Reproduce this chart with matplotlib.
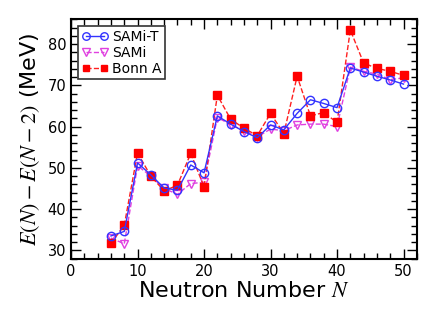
import numpy as np
import matplotlib
matplotlib.use("Agg")
import matplotlib.pyplot as plt
from matplotlib.ticker import MultipleLocator

plt.rcParams['mathtext.fontset'] = 'stix'

# Data
N = [6, 8, 10, 12, 14, 16, 18, 20, 22, 24, 26, 28,
     30, 32, 34, 36, 38, 40, 42, 44, 46, 48, 50]
sami_t = [33.5, 34.6, 51.2, 48.3, 45.1, 44.6, 50.7, 48.8, 62.6, 60.6, 58.8, 57.3,
          60.4, 59.2, 63.2, 66.5, 65.6, 64.6, 74.2, 73.2, 72.2, 71.3, 70.3]
sami = [33.0, 31.6, 50.5, 48.0, 45.0, 43.6, 46.2, 46.5, 62.2, 60.5, 59.0, 57.5,
        59.4, 59.0, 60.4, 60.6, 60.6, 60.0, 74.4, 73.4, 72.7, 71.4, 71.8]
bonn_a = [31.7, 36.1, 53.6, 48.0, 44.4, 45.8, 53.5, 45.4, 67.6, 61.8, 59.6, 57.8,
          63.2, 58.3, 72.2, 62.6, 63.4, 61.0, 83.4, 75.4, 74.1, 73.4, 72.4]

fig = plt.figure(figsize=(4.36, 3.27), dpi=100)
ax = fig.add_axes([0.163, 0.209, 0.793, 0.732])

ax.plot(N, sami_t, '-', color='#3333ff', marker='o', ms=6, mfc='none',
        mec='#3333ff', lw=1.0, label='SAMi-T', zorder=3)
ax.plot(N, sami, '--', color='#e040e0', marker='v', ms=6, mfc='none',
        mec='#e040e0', lw=1.0, label='SAMi', zorder=2)
ax.plot(N, bonn_a, '--', color='#ff2020', marker='s', ms=5.5, mfc='red',
        mec='red', lw=1.0, label='Bonn A', zorder=2)

ax.set_xlim(0, 52)
ax.set_ylim(28, 86)
ax.xaxis.set_major_locator(MultipleLocator(10))
ax.xaxis.set_minor_locator(MultipleLocator(2))
ax.yaxis.set_major_locator(MultipleLocator(10))
ax.yaxis.set_minor_locator(MultipleLocator(2))
ax.tick_params(which='both', direction='in', top=True, right=True, labelsize=10.5)
ax.tick_params(which='major', length=7, width=1)
ax.tick_params(which='minor', length=4, width=1)
for s in ax.spines.values():
    s.set_linewidth(1.5)

ax.set_xlabel('Neutron Number $N$', fontsize=16, labelpad=2)
ax.set_ylabel('$E(N)-E(N-2)$ (MeV)', fontsize=16, labelpad=4)

leg = ax.legend(loc='upper left', numpoints=2, fontsize=10, fancybox=False,
                handlelength=1.9, borderpad=0.25, labelspacing=0.15,
                handletextpad=0.3, borderaxespad=0.5, framealpha=1,
                markerscale=0.9)
leg.get_frame().set_edgecolor('#333333')
leg.get_frame().set_linewidth(1.2)

fig.savefig('out.png', dpi=100)
